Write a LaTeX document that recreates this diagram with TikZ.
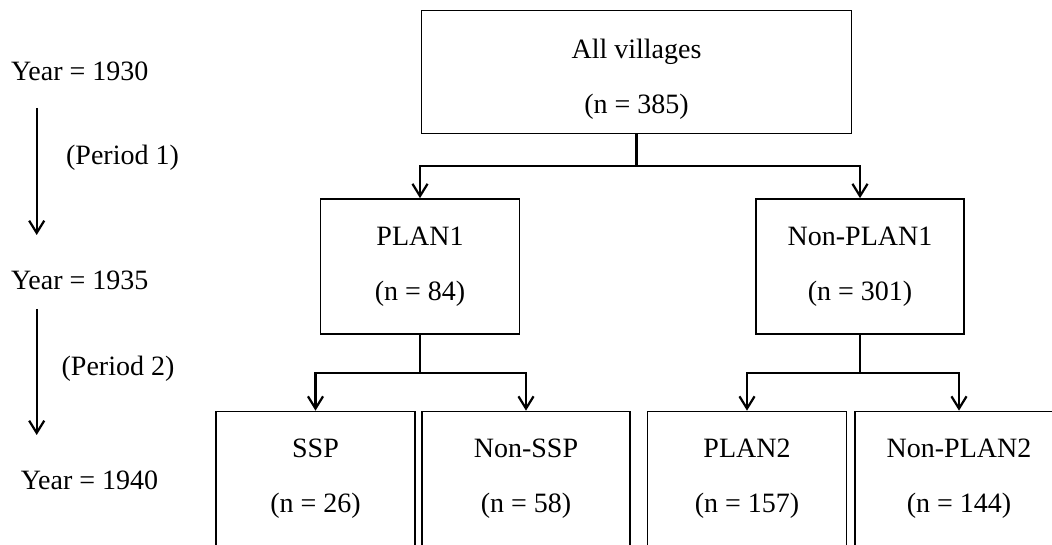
\documentclass[tikz,border=0pt]{standalone}
\usepackage{fontspec}
\setmainfont{Liberation Serif}
\usetikzlibrary{arrows.meta}

\begin{document}
\begin{tikzpicture}[x=0.45pt, y=-0.45pt]
        \tikzstyle{box} = [rectangle, draw=black, line width=0.75pt, minimum width=89.5pt,
          minimum height=60.75pt, align=center, font=\fontsize{12.6}{24.75}\selectfont]
        \tikzstyle{widebox} = [box, minimum width=93.6pt]
        \tikzstyle{conn} = [line width=1pt, -{Straight Barb[length=5.5pt, width=6.8pt]}]
        \tikzstyle{year} = [font=\fontsize{12.6}{14}\selectfont]

        \clip (0,0) rectangle (1052,545);

        % time line on the left
        \node[year] (y1930) at (79.7,71.7) {Year = 1930};
        \node[year] (per1) at (122.5,158) {(Period 1)};
        \node[year] (y1935) at (79.7,280) {Year = 1935};
        \node[year] (per2) at (118,369) {(Period 2)};
        \node[year] (y1940) at (89.5,480) {Year = 1940};
        \coordinate (t1) at (36.7,108);
        \coordinate (t2) at (36.7,235);
        \coordinate (t3) at (36.7,309);
        \coordinate (t4) at (36.7,435);
        \draw[conn] (t1) -- (t2);
        \draw[conn] (t3) -- (t4);

        % tree
        \node[box, minimum width=193.5pt, minimum height=55.35pt] (all) at (636.5,72)
          {\rule{0pt}{15.6pt}All villages\\(n = 385)};
        \node[box] (plan1) at (420,266.5) {PLAN1\\(n = 84)};
        \node[widebox] (nonplan1) at (860,266.5) {Non-PLAN1\\(n = 301)};
        \node[box] (ssp) at (315.5,479) {SSP\\(n = 26)};
        \node[widebox] (nonssp) at (526,479) {Non-SSP\\(n = 58)};
        \node[box] (plan2) at (747,479) {PLAN2\\(n = 157)};
        \node[widebox] (nonplan2) at (959,479) {Non-PLAN2\\(n = 144)};

        \coordinate (s0) at (636.5,166);
        \coordinate (s1) at (420,373);
        \coordinate (s2) at (860,373);
        \draw[line width=1pt] (all.south) -- (s0);
        \draw[conn] (s0) -| (plan1.north);
        \draw[conn] (s0) -| (nonplan1.north);
        \draw[line width=1pt] (plan1.south) -- (s1);
        \draw[conn] (s1) -| (ssp.north);
        \draw[conn] (s1) -| (nonssp.north);
        \draw[line width=1pt] (nonplan1.south) -- (s2);
        \draw[conn] (s2) -| (plan2.north);
        \draw[conn] (s2) -| (nonplan2.north);
      \end{tikzpicture}
\end{document}
